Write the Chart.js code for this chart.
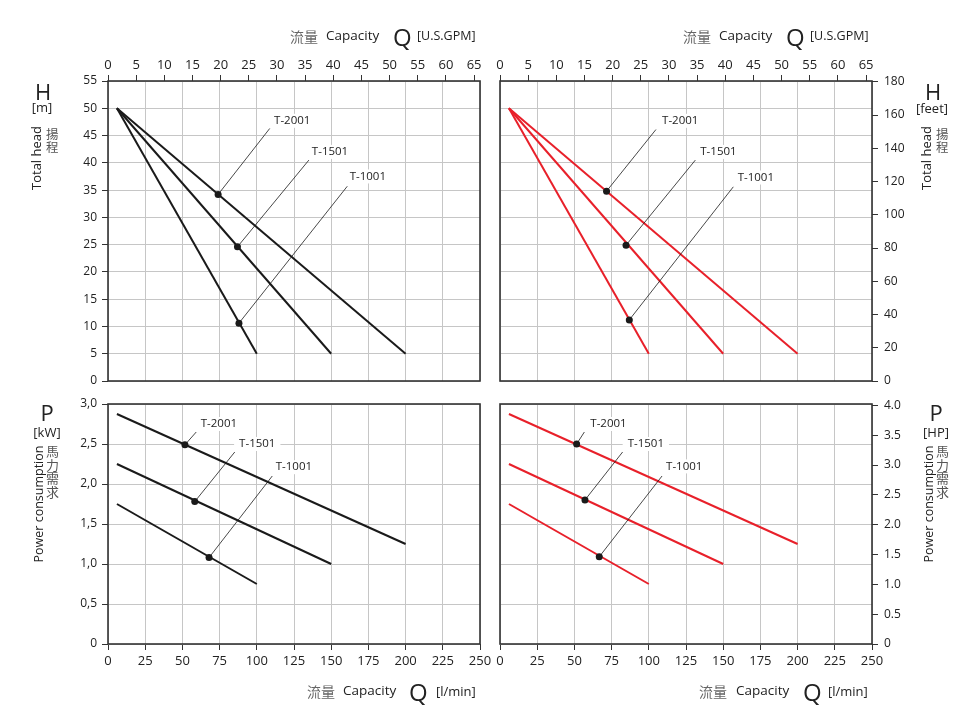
<!DOCTYPE html>
<html>
<head>
<meta charset="utf-8">
<script src="https://cdn.jsdelivr.net/npm/chart.js@4.4.0/dist/chart.umd.min.js"></script>
<style>
body { margin: 0; background: #fff; }
#page { position: relative; width: 968px; height: 707px; overflow: hidden; font-family: 'Open Sans', sans-serif; color: #222; }
canvas { position: absolute; left: 0; top: 0; }
.t { position: absolute; white-space: nowrap; line-height: 1; transform: translateY(-50%); }
.c { position: absolute; white-space: nowrap; line-height: 1; transform: translate(-50%, -50%); }
.rot { position: absolute; white-space: nowrap; line-height: 1; transform: translate(-50%, -50%) rotate(-90deg); }
.zh { font-family: 'Noto Sans CJK TC', sans-serif; color: #666; }
.vzh { position: absolute; font-family: 'Noto Sans CJK TC', sans-serif; color: #555; width: 1em; }
</style>
</head>
<body>
<div id="page">
  <canvas id="headM" width="968" height="707"></canvas>
  <canvas id="headFt" width="968" height="707"></canvas>
  <canvas id="powKw" width="968" height="707"></canvas>
  <canvas id="powHp" width="968" height="707"></canvas>

  <!-- top titles -->
  <span class="t zh" style="left:290px;top:36px;font-size:14px">流量</span>
  <span class="t" style="left:326px;top:36px;font-size:13.5px">Capacity</span>
  <span class="t" style="left:393px;top:37px;font-size:24px">Q</span>
  <span class="t" style="left:417px;top:36px;font-size:12.5px">[U.S.GPM]</span>
  <span class="t zh" style="left:683px;top:36px;font-size:14px">流量</span>
  <span class="t" style="left:719px;top:36px;font-size:13.5px">Capacity</span>
  <span class="t" style="left:786px;top:37px;font-size:24px">Q</span>
  <span class="t" style="left:810px;top:36px;font-size:12.5px">[U.S.GPM]</span>

  <!-- bottom titles -->
  <span class="t zh" style="left:307px;top:691px;font-size:14px">流量</span>
  <span class="t" style="left:343px;top:691px;font-size:13.5px">Capacity</span>
  <span class="t" style="left:409px;top:692px;font-size:24px">Q</span>
  <span class="t" style="left:436px;top:691px;font-size:13px">[l/min]</span>
  <span class="t zh" style="left:699px;top:691px;font-size:14px">流量</span>
  <span class="t" style="left:736px;top:691px;font-size:13.5px">Capacity</span>
  <span class="t" style="left:803px;top:692px;font-size:24px">Q</span>
  <span class="t" style="left:828px;top:691px;font-size:13px">[l/min]</span>

  <!-- side labels -->
  <span class="c" style="left:43px;top:91px;font-size:22px">H</span>
  <span class="c" style="left:42px;top:107px;font-size:13px">[m]</span>
  <span class="rot" style="left:36px;top:158px;font-size:13px">Total head</span>
  <div class="vzh" style="left:46px;top:128px;font-size:12.5px;line-height:12.5px">揚<br>程</div>

  <span class="c" style="left:933px;top:91px;font-size:22px">H</span>
  <span class="c" style="left:932px;top:108px;font-size:13px">[feet]</span>
  <span class="rot" style="left:926px;top:158px;font-size:13px">Total head</span>
  <div class="vzh" style="left:936px;top:128px;font-size:12.5px;line-height:12.5px">揚<br>程</div>

  <span class="c" style="left:47px;top:412px;font-size:22px">P</span>
  <span class="c" style="left:47px;top:432px;font-size:13px">[kW]</span>
  <span class="rot" style="left:39px;top:504px;font-size:12.5px">Power consumption</span>
  <div class="vzh" style="left:46px;top:444px;font-size:13px;line-height:13.5px">馬<br>力<br>需<br>求</div>

  <span class="c" style="left:936px;top:412px;font-size:22px">P</span>
  <span class="c" style="left:936px;top:432px;font-size:13px">[HP]</span>
  <span class="rot" style="left:929px;top:504px;font-size:12.5px">Power consumption</span>
  <div class="vzh" style="left:936px;top:444px;font-size:13px;line-height:13.5px">馬<br>力<br>需<br>求</div>
</div>

<script>
'use strict';

// ---- data ----
const models = ['T-2001', 'T-1501', 'T-1001'];

const flowTicks = [0, 25, 50, 75, 100, 125, 150, 175, 200, 225, 250];
const gpmTicks = [0, 5, 10, 15, 20, 25, 30, 35, 40, 45, 50, 55, 60, 65];
const headTicks = [0, 5, 10, 15, 20, 25, 30, 35, 40, 45, 50, 55];
const feetTicks = [0, 20, 40, 60, 80, 100, 120, 140, 160, 180];
const kwTicks = [0, 0.5, 1, 1.5, 2, 2.5, 3];
const hpTicks = [0, 0.5, 1, 1.5, 2, 2.5, 3, 3.5, 4];

// straight performance lines, l/min -> m and kW
const flowStart = [6, 6, 6];
const flowEnd = [200, 150, 100];
const headStart = [50, 50, 50];
const headEnd = [5, 5, 5];
const powerStart = [2.875, 2.25, 1.75];
const powerEnd = [1.25, 1.0, 0.75];

// duty points (dots)
const headDotQ = [74, 87, 88];
const headDotH = [34.2, 24.6, 10.6];
const headDotQRed = [71.6, 84.7, 86.9];
const headDotHRed = [34.8, 24.9, 11.2];
const powerDotQ = [51.7, 58.3, 67.9];
const powerDotP = [2.49, 1.78, 1.08];
const powerDotQRed = [51.5, 57.1, 66.7];
const powerDotPRed = [2.5, 1.8, 1.09];

// leader line ends and model label anchors
const headLeadQ = [108.7, 135, 160.8];
const headLeadH = [46.3, 40.5, 35.7];
const headTagQ = [111.6, 137, 162.4];
const headTagH = [47.7, 42, 37.5];
const headLeadQRed = [104.8, 131.3, 156.8];
const headLeadHRed = [46.1, 40.5, 35.6];
const headTagQRed = [108.9, 134.6, 159.7];
const headTagHRed = [47.7, 42, 37.3];
const powerLeadQ = [59.3, 85.2, 110.4];
const powerLeadP = [2.65, 2.4, 2.1];
const powerTagQ = [62.3, 88.1, 112.7];
const powerTagP = [2.75, 2.5, 2.21];
const powerLeadQRed = [56.7, 82.4, 108.9];
const powerLeadPRed = [2.65, 2.4, 2.1];
const powerTagQRed = [60.7, 85.8, 111.6];
const powerTagPRed = [2.75, 2.5, 2.22];

const LPM_PER_GPM = 3.785;
const FT_PER_M = 3.281;
const HP_PER_KW = 1.341;

// ---- styling ----
const INK = '#222';
const AXIS = '#333';
const GRID = '#c6c6c6';
const BLACK = '#1a1a1a';
const RED = '#e8202a';

Chart.defaults.font.family = "'Open Sans', sans-serif";
Chart.defaults.color = INK;

function setTicks(scale, list) {
  scale.ticks = list.map(v => ({ value: v }));
}

const framePlugin = {
  id: 'frame',
  afterDatasetsDraw(chart) {
    const { ctx, chartArea: a } = chart;
    ctx.save();
    ctx.strokeStyle = AXIS;
    ctx.lineWidth = 1.6;
    ctx.strokeRect(a.left, a.top, a.right - a.left, a.bottom - a.top);
    ctx.restore();
  }
};

const tagPlugin = {
  id: 'tags',
  beforeDatasetsDraw(chart, args, opts) {
    const ctx = chart.ctx;
    const xs = chart.scales.x, ys = chart.scales.y;
    ctx.save();
    ctx.font = "11.5px 'Open Sans'";
    ctx.textBaseline = 'middle';
    opts.q.forEach((q, i) => {
      const px = xs.getPixelForValue(q);
      const py = ys.getPixelForValue(opts.v[i]);
      const w = ctx.measureText(models[i]).width;
      ctx.fillStyle = '#fff';
      ctx.fillRect(px - 5, py - 7, w + 10, 14);
      ctx.fillStyle = INK;
      ctx.fillText(models[i], px, py);
    });
    ctx.restore();
  }
};

function buildSets(v0, v1, dotQ, dotV, leadQ, leadV, color) {
  let sets = [];
  for (let i = 0; i < models.length; i++) {
    sets.push({
      data: [{ x: flowStart[i], y: v0[i] }, { x: flowEnd[i], y: v1[i] }],
      borderColor: color, borderWidth: 2, pointRadius: 0, order: 2
    });
    sets.push({
      data: [{ x: dotQ[i], y: dotV[i] }, { x: leadQ[i], y: leadV[i] }],
      borderColor: BLACK, borderWidth: 0.8, pointRadius: 0, order: 1
    });
    sets.push({
      data: [{ x: dotQ[i], y: dotV[i] }],
      showLine: false, pointRadius: 3.5, pointBackgroundColor: BLACK, pointBorderWidth: 0, order: 0
    });
  }
  return sets;
}

function makePanel(id, o) {
  let scales = {
    x: {
      type: 'linear', position: 'bottom', min: 0, max: 250,
      afterBuildTicks: s => setTicks(s, flowTicks),
      grid: { color: GRID, drawTicks: o.bottom, tickLength: 6, tickColor: AXIS },
      border: { display: false },
      ticks: { display: o.bottom, padding: 3, autoSkip: false, maxRotation: 0, font: { size: 13 } },
      afterFit: s => { s.height = o.bottom ? 30 : 0; }
    },
    y: {
      type: 'linear', position: 'left', min: 0, max: o.yMax,
      afterBuildTicks: s => setTicks(s, o.yTicks),
      grid: { color: GRID, drawTicks: o.left, tickLength: 6, tickColor: AXIS },
      border: { display: false },
      ticks: { display: o.left, padding: 5, autoSkip: false, font: { size: 12 }, callback: o.yFmt },
      afterFit: s => { s.width = o.left ? 30 : 0; }
    }
  };
  if (o.top) {
    scales.x2 = {
      type: 'linear', position: 'top', min: 0, max: 250 / LPM_PER_GPM,
      afterBuildTicks: s => setTicks(s, gpmTicks),
      grid: { drawOnChartArea: false, tickLength: 6, tickColor: AXIS },
      border: { display: false },
      ticks: { padding: 2, autoSkip: false, maxRotation: 0, font: { size: 13 } },
      afterFit: s => { s.height = 30; }
    };
  }
  if (o.right) {
    scales.y2 = {
      type: 'linear', position: 'right', min: 0, max: o.rightMax,
      afterBuildTicks: s => setTicks(s, o.rightTicks),
      grid: { drawOnChartArea: false, tickLength: 6, tickColor: AXIS },
      border: { display: false },
      ticks: { padding: 6, autoSkip: false, font: { size: 12 }, callback: o.rightFmt },
      afterFit: s => { s.width = 40; }
    };
  }
  const box = o.box;
  return new Chart(document.getElementById(id), {
    type: 'line',
    data: { datasets: o.sets },
    options: {
      responsive: false,
      animation: false,
      devicePixelRatio: 1,
      layout: {
        padding: {
          left: box.l - (o.left ? 30 : 0),
          top: box.t - (o.top ? 30 : 0),
          right: 968 - box.r - (o.right ? 40 : 0),
          bottom: 707 - box.b - (o.bottom ? 30 : 0)
        }
      },
      scales: scales,
      plugins: {
        legend: { display: false },
        tooltip: { enabled: false },
        tags: { q: o.tagQ, v: o.tagV }
      }
    },
    plugins: [framePlugin, tagPlugin]
  });
}

const kwFmt = v => v === 0 ? '0' : v.toFixed(1).replace('.', ',');
const hpFmt = v => v === 0 ? '0' : v.toFixed(1);

makePanel('headM', {
  box: { l: 108, t: 81, r: 480, b: 381 },
  left: true, top: true, bottom: false, right: false,
  yMax: 55, yTicks: headTicks,
  sets: buildSets(headStart, headEnd, headDotQ, headDotH, headLeadQ, headLeadH, BLACK),
  tagQ: headTagQ, tagV: headTagH
});

makePanel('headFt', {
  box: { l: 500, t: 81, r: 872, b: 381 },
  left: false, top: true, bottom: false, right: true,
  yMax: 55, yTicks: headTicks,
  rightMax: 55 * FT_PER_M, rightTicks: feetTicks,
  sets: buildSets(headStart, headEnd, headDotQRed, headDotHRed, headLeadQRed, headLeadHRed, RED),
  tagQ: headTagQRed, tagV: headTagHRed
});

makePanel('powKw', {
  box: { l: 108, t: 404, r: 480, b: 644 },
  left: true, top: false, bottom: true, right: false,
  yMax: 3, yTicks: kwTicks, yFmt: kwFmt,
  sets: buildSets(powerStart, powerEnd, powerDotQ, powerDotP, powerLeadQ, powerLeadP, BLACK),
  tagQ: powerTagQ, tagV: powerTagP
});

makePanel('powHp', {
  box: { l: 500, t: 404, r: 872, b: 644 },
  left: false, top: false, bottom: true, right: true,
  yMax: 3, yTicks: kwTicks,
  rightMax: 3 * HP_PER_KW, rightTicks: hpTicks, rightFmt: hpFmt,
  sets: buildSets(powerStart, powerEnd, powerDotQRed, powerDotPRed, powerLeadQRed, powerLeadPRed, RED),
  tagQ: powerTagQRed, tagV: powerTagPRed
});
</script>
</body>
</html>
